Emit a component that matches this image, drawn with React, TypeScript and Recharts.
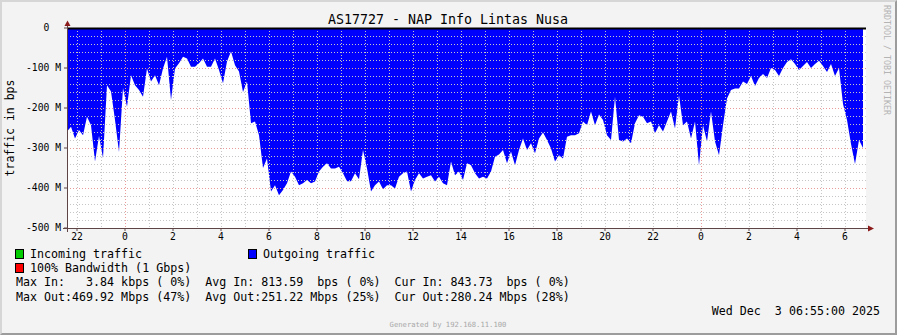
import { ComposedChart, Area, XAxis, YAxis } from "recharts";

// outgoing traffic in Mbps, one sample every 10 minutes starting 21:35
const OUT_MBPS = [
  259, 247, 276, 255, 268, 222, 243, 334, 270, 325, 143, 159, 230, 310, 150, 197, 118, 143, 155, 172,
  101, 134, 118, 143, 101, 72, 180, 101, 88, 72, 76, 97, 97, 88, 76,
  97, 97, 76, 105, 138, 84, 59, 93, 109, 160, 134, 238, 234, 268, 350, 326, 409, 393, 418, 405,
  388, 359, 372, 393, 388, 380, 388, 384, 359, 347, 338, 351, 351,
  347, 363, 383, 383, 363, 378, 305, 351, 409, 393, 384, 403, 393, 393, 401, 372, 363, 359, 409, 380,
  363, 376, 372, 368, 384, 372, 388, 393, 334, 368, 359, 380, 338, 343,
  363, 376, 372, 376, 359, 322, 316, 305, 338, 309, 343, 305, 276, 305, 288, 313, 276, 261, 280, 301,
  334, 318, 326, 272, 268, 268, 263, 234, 243, 209, 243, 216, 230, 268,
  280, 172, 280, 284, 276, 288, 238, 218, 222, 238, 234, 263, 243, 259, 234, 209, 251, 168, 243, 234,
  276, 234, 343, 243, 284, 209, 284, 318, 243, 176, 155, 151, 151, 134,
  140, 120, 145, 125, 115, 125, 100, 105, 120, 100, 85, 78, 90, 105, 95, 85, 100, 90, 82, 95,
  110, 90, 120, 100, 190, 230, 290, 340, 280, 300,
];

const START_HOUR = -29 / 12; // hours relative to midnight
const STEP_HOUR = 1 / 6;
const X_MAX = 741 / 24;

const HOUR_TICKS = [-2, 0, 2, 4, 6, 8, 10, 12, 14, 16, 18, 20, 22, 24, 26, 28, 30];
const Y_TICKS = [0, -100, -200, -300, -400, -500];
const MINOR_HOURS = [-2, -1, 1, 2, 3, 4, 5, 6, 7, 8, 9, 10, 11, 12, 13, 14, 15, 16, 17, 18, 19, 20, 21, 22, 23, 25, 26, 27, 28, 29, 30];
const MAJOR_HOURS = [0, 24];
const MINOR_Y = [-20, -40, -60, -80, -120, -140, -160, -180, -220, -240, -260, -280, -320, -340, -360, -380, -420, -440, -460, -480];
const MAJOR_Y = [-100, -200, -300, -400];

const LEGEND_STATS = [
  "Max In:   3.84 kbps ( 0%)  Avg In: 813.59  bps ( 0%)  Cur In: 843.73  bps ( 0%)",
  "Max Out:469.92 Mbps (47%)  Avg Out:251.22 Mbps (25%)  Cur Out:280.24 Mbps (28%)",
];

const data = OUT_MBPS.map((v, i) => ({ t: START_HOUR + i * STEP_HOUR, out: -v }));

const MONO = "'DejaVu Sans Mono', monospace";
const AXIS = "#5e4444";
const ARROW = "#8b1a1a";

// plot box (matches chart margins below)
const PL = 67, PR = 866, PT = 28, PB = 228;
const xPx = (h: number) => PL + ((h - START_HOUR) / (X_MAX - START_HOUR)) * (PR - PL);
const yPx = (v: number) => PT + (-v / 500) * (PB - PT);

export default function App() {
  return (
    <div style={{ position: "absolute", left: 0, top: 0, width: 897, height: 335, background: "#f3f3f3", overflow: "hidden" }}>
      <div style={{ position: "absolute", left: PL, top: PT, width: PR - PL, height: PB - PT, background: "#fff" }} />
      <div style={{ position: "absolute", left: 0, top: 0 }}>
        <ComposedChart width={897} height={335} data={data} margin={{ top: 28, right: 31, bottom: 87, left: 7 }}>
          <XAxis
            type="number"
            dataKey="t"
            domain={[START_HOUR, X_MAX]}
            allowDataOverflow
            ticks={HOUR_TICKS}
            tickFormatter={(h: number) => String(((h % 24) + 24) % 24)}
            height={20}
            axisLine={false}
            tickLine={{ stroke: AXIS }}
            tickSize={3}
            tick={{ fontFamily: MONO, fontSize: 9.7, fill: "#000" }}
            interval={0}
          />
          <YAxis
            type="number"
            domain={[-500, 0]}
            allowDataOverflow
            ticks={Y_TICKS}
            tickFormatter={(v: number) => (v === 0 ? "0\u00a0\u00a0" : `${v} M`)}
            width={60}
            axisLine={false}
            tickLine={{ stroke: AXIS }}
            tickSize={3}
            tickMargin={3}
            tick={{ fontFamily: MONO, fontSize: 9.7, fill: "#000" }}
            interval={0}
          />
          <Area
            type="linear"
            dataKey="out"
            stroke="none"
            fill="#0000ff"
            fillOpacity={1}
            isAnimationActive={false}
          />
        </ComposedChart>
      </div>

      <svg width={897} height={335} style={{ position: "absolute", left: 0, top: 0, pointerEvents: "none" }}>
        {/* grid drawn over the area, as rrdtool does */}
        {MINOR_Y.map((v) => (
          <line key={"my" + v} x1={PL} x2={PR} y1={yPx(v) + 0.5} y2={yPx(v) + 0.5} stroke="#c6c6c6" strokeDasharray="1 2" />
        ))}
        {MINOR_HOURS.map((h) => (
          <line key={"mh" + h} x1={Math.round(xPx(h)) + 0.5} x2={Math.round(xPx(h)) + 0.5} y1={PT} y2={PB} stroke="#c6c6c6" strokeDasharray="1 2" />
        ))}
        {MAJOR_Y.map((v) => (
          <line key={"My" + v} x1={PL} x2={PR} y1={yPx(v) + 0.5} y2={yPx(v) + 0.5} stroke="#eb9a9a" strokeDasharray="1 2" />
        ))}
        {MAJOR_HOURS.map((h) => (
          <line key={"Mh" + h} x1={Math.round(xPx(h)) + 0.5} x2={Math.round(xPx(h)) + 0.5} y1={PT} y2={PB} stroke="#eb9a9a" strokeDasharray="1 2" />
        ))}
        <line x1={PL} x2={PR} y1={PT + 0.5} y2={PT + 0.5} stroke="#000" strokeWidth={2} />

        {/* axes with arrows */}
        <line x1={67.5} y1={232} x2={67.5} y2={25} stroke={AXIS} strokeWidth={1} />
        <line x1={63} y1={228.5} x2={869} y2={228.5} stroke={AXIS} strokeWidth={1} />
        <polygon points="67.5,20.5 64.5,26 70.5,26" fill={ARROW} />
        <polygon points="874,228.5 868,225.5 868,231.5" fill={ARROW} />

        <text x={448} y={24} textAnchor="middle" fontFamily={MONO} fontSize={13.3} fill="#000">
          AS17727 - NAP Info Lintas Nusa
        </text>
        <text transform="translate(14,128) rotate(-90)" textAnchor="middle" fontFamily={MONO} fontSize={11.5} fill="#000">
          traffic in bps
        </text>
        <text transform="translate(884,5) rotate(90)" textAnchor="start" fontFamily={MONO} fontSize={8.3} fill="#b4b4b4">
          RRDTOOL / TOBI OETIKER
        </text>

        {/* legend */}
        <rect x={15.5} y={249.5} width={8} height={9} fill="#00cc00" stroke="#000" />
        <text x={30} y={258} fontFamily={MONO} fontSize={11.65} fill="#000">Incoming traffic</text>
        <rect x={248.5} y={249.5} width={8} height={9} fill="#0000ff" stroke="#000" />
        <text x={263} y={258} fontFamily={MONO} fontSize={11.65} fill="#000">Outgoing traffic</text>
        <rect x={15.5} y={263.5} width={8} height={9} fill="#ff0000" stroke="#000" />
        <text x={30} y={272} fontFamily={MONO} fontSize={11.65} fill="#000">100% Bandwidth (1 Gbps)</text>
        {LEGEND_STATS.map((s, i) => (
          <text key={i} x={16} y={286 + i * 14.5} fontFamily={MONO} fontSize={11.65} fill="#000" style={{ whiteSpace: "pre" }}>
            {s}
          </text>
        ))}
        <text x={880} y={315} textAnchor="end" fontFamily={MONO} fontSize={11.65} fill="#000" style={{ whiteSpace: "pre" }}>
          {"Wed Dec  3 06:55:00 2025"}
        </text>
        <text x={448} y={327} textAnchor="middle" fontFamily={MONO} fontSize={7.2} fill="#a8a8a8">
          Generated by 192.168.11.100
        </text>
      </svg>

      <div
        style={{
          position: "absolute", left: 0, top: 0, width: 897, height: 335, boxSizing: "border-box",
          borderTop: "2px solid #d6d6d6", borderLeft: "2px solid #d6d6d6",
          borderRight: "2px solid #9c9c9c", borderBottom: "2px solid #9c9c9c", pointerEvents: "none",
        }}
      />
    </div>
  );
}
